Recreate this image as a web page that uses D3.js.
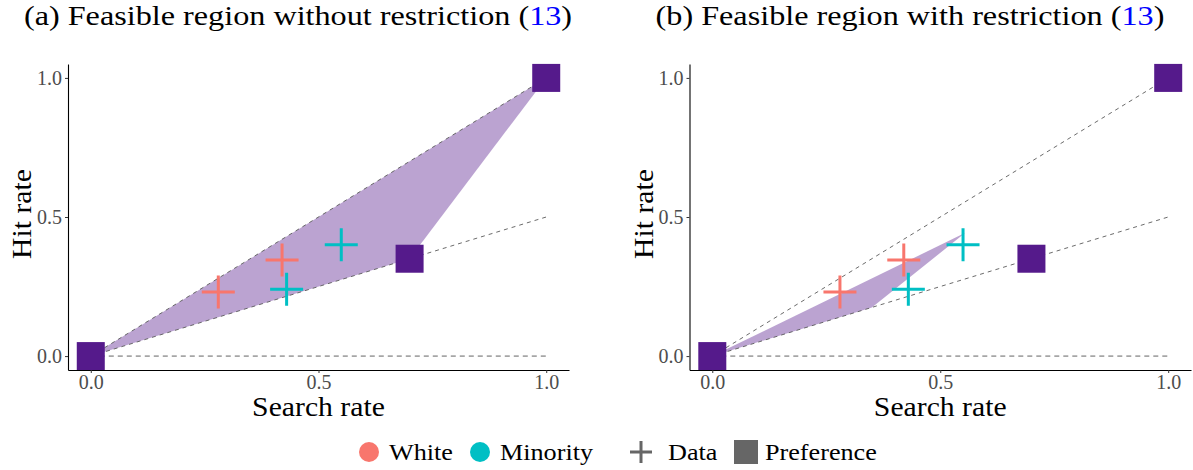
<!DOCTYPE html>
<html>
<head>
<meta charset="utf-8">
<script src="https://cdn.jsdelivr.net/npm/d3@7"></script>
<style>
  html, body { margin: 0; padding: 0; background: #fff; }
  svg { display: block; }
  text { font-family: "Liberation Serif", "Times New Roman", serif; }
</style>
</head>
<body>
<svg id="chart" width="1193" height="470"></svg>
<script>
// Observed (search rate, hit rate) per group
const groups = ["White", "Minority"];
const groupColors = ["#F8766D", "#00BFC4"];
const whiteSearch = [0.28, 0.42];
const whiteHit = [0.23, 0.345];
const minoritySearch = [0.43, 0.55];
const minorityHit = [0.24, 0.40];

// Preference points
const prefSearch = [0, 0.7, 1];
const prefHit = [0, 0.35, 1];

// Feasible regions (search, hit) vertices
const regionASearch = [0, 0.7, 1];
const regionAHit = [0, 0.35, 1];
const regionBSearch = [0, 0.35, 0.555];
const regionBHit = [0, 0.175, 0.443];

// Reference lines hit = slope * search, for search in [0, 1]
const refSlopes = [0, 0.5, 1];

const tickValues = [0, 0.5, 1];
const tickLabels = ["0.0", "0.5", "1.0"];

const panels = [
  { label: "(a)", name: " Feasible region without restriction (", rSearch: regionASearch, rHit: regionAHit, x0: 68, x1: 569, titleX: 298 },
  { label: "(b)", name: " Feasible region with restriction (", rSearch: regionBSearch, rHit: regionBHit, x0: 689.5, x1: 1191, titleX: 910 }
];

const svg = d3.select("#chart");
const purple = "#551A8B";

// Stretch Liberation Serif horizontally to approximate Computer Modern widths
function widen(sel, k) {
  sel.each(function () {
    const w = this.getComputedTextLength();
    d3.select(this).attr("textLength", w * k).attr("lengthAdjust", "spacingAndGlyphs");
  });
}

function plusPath(cx, cy, h) {
  return `M${cx - h},${cy}H${cx + h}M${cx},${cy - h}V${cy + h}`;
}

panels.forEach(p => {
  const x = d3.scaleLinear().domain([-0.05, 1.05]).range([p.x0, p.x1]);
  const y = d3.scaleLinear().domain([-0.05, 1.05]).range([370, 64]);
  const g = svg.append("g");

  // feasible region
  const poly = p.rSearch.map((s, i) => [x(s), y(p.rHit[i])]);
  g.append("path")
    .attr("d", d3.line()(poly) + "Z")
    .attr("fill", purple)
    .attr("fill-opacity", 0.4)
    .attr("stroke", "none");

  // reference lines
  refSlopes.forEach(m => {
    g.append("line")
      .attr("x1", x(0)).attr("y1", y(0))
      .attr("x2", x(1)).attr("y2", y(m))
      .attr("stroke", m === 0 ? "#a6a6a6" : "#5a5a5a")
      .attr("stroke-width", m === 0 ? 1.6 : 0.9)
      .attr("stroke-dasharray", m === 0 ? "5,4" : "4,4");
  });

  // observed data as crosses
  const series = [[whiteSearch, whiteHit], [minoritySearch, minorityHit]];
  series.forEach((sv, gi) => {
    sv[0].forEach((s, i) => {
      g.append("path")
        .attr("d", plusPath(x(s), y(sv[1][i]), 16.5))
        .attr("stroke", groupColors[gi])
        .attr("stroke-width", 3)
        .attr("fill", "none");
    });
  });

  // preference squares
  prefSearch.forEach((s, i) => {
    g.append("rect")
      .attr("x", x(s) - 14).attr("y", y(prefHit[i]) - 14)
      .attr("width", 28).attr("height", 28)
      .attr("fill", purple);
  });

  // axes
  const xAxis = g.append("g").attr("transform", "translate(0,370)")
    .call(d3.axisBottom(x).tickValues(tickValues).tickFormat((d, i) => tickLabels[i]).tickSizeInner(3).tickSizeOuter(0).tickPadding(3));
  const yAxis = g.append("g").attr("transform", `translate(${p.x0},0)`)
    .call(d3.axisLeft(y).tickValues(tickValues).tickFormat((d, i) => tickLabels[i]).tickSizeInner(3).tickSizeOuter(0).tickPadding(3));
  [xAxis, yAxis].forEach(a => {
    a.attr("font-family", "'Liberation Serif', serif");
    a.select(".domain").attr("stroke", "#000").attr("stroke-width", 1.1);
    a.selectAll(".tick line").attr("stroke", "#333").attr("stroke-width", 1);
    a.selectAll(".tick text")
      .attr("fill", "#4d4d4d")
      .style("font-size", "20px");
  });
  xAxis.selectAll(".tick text").attr("dy", "0.66em");

  // axis titles
  const xt = g.append("text")
    .attr("x", (p.x0 + p.x1) / 2).attr("y", 416)
    .attr("text-anchor", "middle")
    .style("font-size", "27px")
    .text("Search rate");
  widen(xt, 1.1);
  const yt = g.append("text")
    .attr("transform", `translate(${p.x0 - 37},214) rotate(-90)`)
    .attr("text-anchor", "middle")
    .style("font-size", "27px")
    .text("Hit rate");
  widen(yt, 1.1);

  // panel title
  const t = svg.append("text")
    .attr("x", p.titleX).attr("y", 25)
    .attr("text-anchor", "middle")
    .style("font-size", "28px");
  t.append("tspan").text(p.label + p.name);
  t.append("tspan").attr("fill", "#0000FF").text("13");
  t.append("tspan").text(")");
  widen(t, 1.15);
});

// legend
const lg = svg.append("g");
const legendY = 452;
const colorItems = [
  { x: 369, label: "White", tx: 389 },
  { x: 480, label: "Minority", tx: 500 }
];
colorItems.forEach((it, i) => {
  lg.append("circle").attr("cx", it.x).attr("cy", legendY).attr("r", 10).attr("fill", groupColors[i]);
  const tt = lg.append("text").attr("x", it.tx).attr("y", legendY + 8).style("font-size", "24px").text(groups[i]);
  widen(tt, 1.09);
});
lg.append("path").attr("d", plusPath(641, legendY, 11)).attr("stroke", "#666").attr("stroke-width", 3).attr("fill", "none");
const dt = lg.append("text").attr("x", 668).attr("y", legendY + 8).style("font-size", "24px").text("Data");
widen(dt, 1.09);
lg.append("rect").attr("x", 734).attr("y", legendY - 12).attr("width", 24).attr("height", 24).attr("fill", "#666");
const pt = lg.append("text").attr("x", 765).attr("y", legendY + 8).style("font-size", "24px").text("Preference");
widen(pt, 1.09);
</script>
</body>
</html>
